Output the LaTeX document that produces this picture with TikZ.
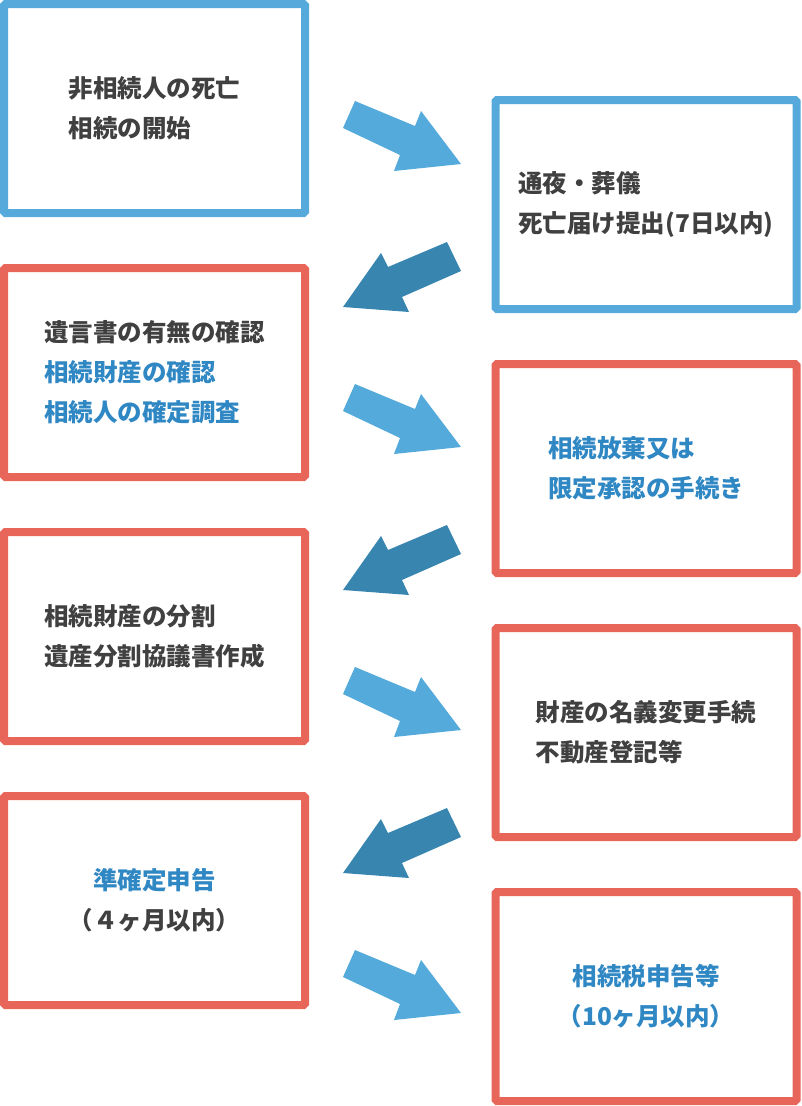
\documentclass[tikz,border=0pt]{standalone}
\usepackage{fontspec}
\setmainfont{Noto Sans CJK JP}[BoldFont={Noto Sans CJK JP Black}]
\usepackage{xcolor}
\usepackage{tikz}
\definecolor{boxblue}{HTML}{55AADB}
\definecolor{boxred}{HTML}{E8655A}
\definecolor{arrowlight}{HTML}{53AADB}
\definecolor{arrowdark}{HTML}{3886B0}
\definecolor{textdark}{HTML}{404040}
\definecolor{textblue}{HTML}{2F87C3}

\begin{document}
\begin{tikzpicture}[x=1pt,y=-1pt]
		\tikzstyle{every node}+=[inner sep=0pt]
		\tikzstyle{stepbox}=[draw,line width=8pt,rounded corners=1.5pt,minimum width=301pt,minimum height=209pt,text=textdark,font=\fontsize{24.5}{40}\selectfont\bfseries]
		\useasboundingbox (0,0) rectangle (801,1106);
		\node [stepbox,draw=boxblue,align=left] (death) at (154.5,108.5) {非相続人の死亡\\相続の開始};
		\node [stepbox,draw=boxblue,align=left] (funeral) at (646,204.5) {通夜・葬儀\\死亡届け提出(7日以内)};
		\node [stepbox,draw=boxred,align=left] (will) at (154.5,372.5) {遺言書の有無の確認\\\textcolor{textblue}{相続財産の確認}\\\textcolor{textblue}{相続人の確定調査}};
		\node [stepbox,draw=boxred,align=left,text=textblue] (renounce) at (646,468.5) {相続放棄又は\\限定承認の手続き};
		\node [stepbox,draw=boxred,align=left] (division) at (154.5,636.5) {相続財産の分割\\遺産分割協議書作成};
		\node [stepbox,draw=boxred,align=left] (transfer) at (646,732.5) {財産の名義変更手続\\不動産登記等};
		\node [stepbox,draw=boxred,align=center] (income) at (154.5,900.5) {\textcolor{textblue}{準確定申告}\\（４ヶ月以内）};
		\node [stepbox,draw=boxred,align=center,text=textblue] (inherit) at (646,996.5) {相続税申告等\\（10ヶ月以内）};
		% arrows to the right
		\foreach \dy in {0,283,566,849}
			\fill [arrowlight] (355,101+\dy) -- (415,126+\dy) -- (421,111+\dy) -- (461,164+\dy) -- (394,171+\dy) -- (400,155+\dy) -- (343,128+\dy) -- cycle;
		% arrows to the left
		\foreach \dy in {0,283,566}
			\fill [arrowdark] (447,242+\dy) -- (461,271+\dy) -- (402,297+\dy) -- (409,312+\dy) -- (343,307+\dy) -- (381,253+\dy) -- (388,267+\dy) -- cycle;
\end{tikzpicture}
\end{document}
